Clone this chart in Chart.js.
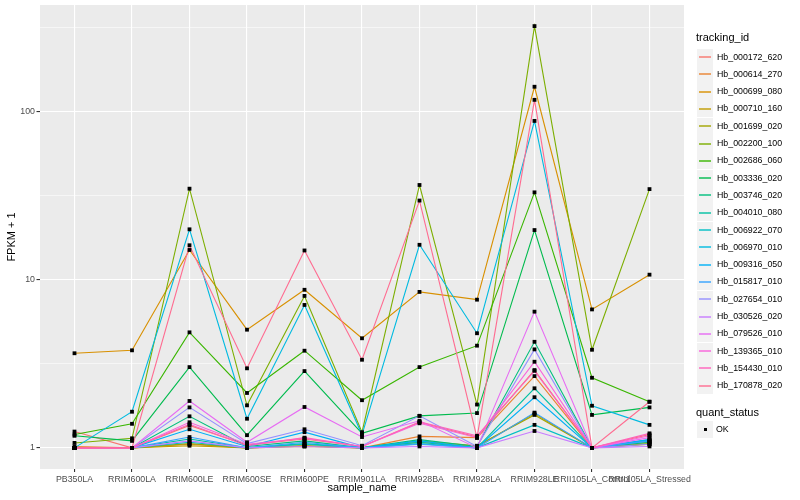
<!DOCTYPE html>
<html><head><meta charset="utf-8">
<script src="https://cdn.jsdelivr.net/npm/chart.js@4.4.0/dist/chart.umd.min.js"></script>
<style>
html,body{margin:0;padding:0;background:#fff;}
#wrap{position:relative;width:800px;height:500px;font-family:"Liberation Sans",Arial,sans-serif;overflow:hidden;}
canvas{position:absolute;left:0;top:0;}
.key{position:absolute;width:16px;height:17px;background:#F2F2F2;}
.key .ln{position:absolute;left:2px;width:12px;top:7.5px;height:2px;opacity:0.7;}
.key .pt{position:absolute;left:6.5px;top:7px;width:3px;height:3px;background:#000;}
.lab{position:absolute;font-size:8.8px;line-height:17px;height:17px;color:#000;white-space:nowrap;}
.ttl{position:absolute;font-size:11px;line-height:14px;color:#000;white-space:nowrap;}
</style></head>
<body><div id="wrap"><canvas id="c" width="800" height="500"></canvas><div id="legend"></div></div>
<script>
const categories = ['PB350LA','RRIM600LA','RRIM600LE','RRIM600SE','RRIM600PE','RRIM901LA','RRIM928BA','RRIM928LA','RRIM928LE','RRII105LA_Control','RRII105LA_Stressed'];
const seriesNames = ['Hb_000172_620','Hb_000614_270','Hb_000699_080','Hb_000710_160','Hb_001699_020','Hb_002200_100','Hb_002686_060','Hb_003336_020','Hb_003746_020','Hb_004010_080','Hb_006922_070','Hb_006970_010','Hb_009316_050','Hb_015817_010','Hb_027654_010','Hb_030526_020','Hb_079526_010','Hb_139365_010','Hb_154430_010','Hb_170878_020'];
const seriesColors = ['#F8766D','#EA8331','#D89000','#C09B00','#A3A500','#7CAE00','#39B600','#00BB4E','#00BF7D','#00C1A3','#00BFC4','#00BAE0','#00B0F6','#35A2FF','#9590FF','#C77CFF','#E76BF3','#FA62DB','#FF62BC','#FF6C91'];

const hb_000172_620 = [1.25, 1.0, 1.36, 1.04, 1.13, 1.02, 1.42, 1.16, 2.9, 1.0, 1.2];
const hb_000614_270 = [1.02, 1.0, 1.05, 1.0, 1.03, 1.0, 1.17, 1.15, 2.67, 1.0, 1.08];
const hb_000699_080 = [3.65, 3.8, 15.0, 5.04, 8.7, 4.48, 8.45, 7.6, 140, 6.65, 10.7];
const hb_000710_160 = [1.0, 1.0, 1.03, 1.0, 1.02, 1.0, 1.08, 1.02, 1.6, 1.0, 1.05];
const hb_001699_020 = [1.0, 1.0, 1.06, 1.0, 1.03, 1.0, 1.1, 1.03, 1.57, 1.0, 1.06];
const hb_002200_100 = [1.07, 1.14, 34.7, 1.79, 8.0, 1.24, 36.5, 1.81, 321, 3.83, 34.5];
const hb_002686_060 = [1.2, 1.39, 4.86, 2.12, 3.78, 1.92, 3.02, 4.05, 33, 2.61, 1.88];
const hb_003336_020 = [1.18, 1.1, 3.02, 1.19, 2.86, 1.22, 1.55, 1.61, 19.7, 1.57, 1.74];
const hb_003746_020 = [1.0, 1.0, 1.54, 1.02, 1.1, 1.0, 1.12, 1.02, 4.27, 1.0, 1.08];
const hb_004010_080 = [1.0, 1.0, 1.13, 1.0, 1.06, 1.0, 1.08, 1.0, 2.26, 1.0, 1.1];
const hb_006922_070 = [1.0, 1.0, 1.08, 1.0, 1.05, 1.0, 1.06, 1.0, 1.37, 1.0, 1.12];
const hb_006970_010 = [1.0, 1.64, 19.9, 1.49, 7.07, 1.2, 16.1, 4.8, 87.7, 1.78, 1.37];
const hb_009316_050 = [1.0, 1.0, 1.29, 1.02, 1.24, 1.0, 1.1, 1.0, 2.0, 1.0, 1.12];
const hb_015817_010 = [1.0, 1.0, 1.16, 1.0, 1.08, 1.0, 1.05, 1.0, 1.62, 1.0, 1.1];
const hb_027654_010 = [1.0, 1.0, 1.74, 1.06, 1.29, 1.03, 1.55, 1.02, 3.85, 1.0, 1.05];
const hb_030526_020 = [1.0, 1.0, 1.1, 1.0, 1.02, 1.0, 1.02, 1.0, 1.26, 1.0, 1.02];
const hb_079526_010 = [1.0, 1.0, 1.9, 1.08, 1.75, 1.16, 1.45, 1.0, 6.45, 1.0, 1.15];
const hb_139365_010 = [1.0, 1.0, 1.42, 1.05, 1.14, 1.02, 1.4, 1.15, 3.25, 1.0, 1.18];
const hb_154430_010 = [1.0, 1.0, 1.38, 1.03, 1.15, 1.02, 1.43, 1.18, 2.87, 1.0, 1.22];
const hb_170878_020 = [1.0, 1.0, 16.0, 2.97, 14.9, 3.34, 29.5, 1.15, 117, 1.0, 1.88];

const seriesValues = [hb_000172_620, hb_000614_270, hb_000699_080, hb_000710_160, hb_001699_020, hb_002200_100, hb_002686_060, hb_003336_020, hb_003746_020, hb_004010_080, hb_006922_070, hb_006970_010, hb_009316_050, hb_015817_010, hb_027654_010, hb_030526_020, hb_079526_010, hb_139365_010, hb_154430_010, hb_170878_020];

const yMajorTicks = [1, 10, 100];
const yTickLabels = ['1', '10', '100'];
const yMinorTicks = [3.1623, 31.623, 316.23];

const isMajor = v => yMajorTicks.some(m => Math.abs(m - v) < 1e-6);

const datasets = seriesValues.map((vals, i) => ({
  label: seriesNames[i],
  data: vals.map((v, j) => ({x: j, y: v})),
  borderColor: seriesColors[i],
  backgroundColor: seriesColors[i],
  borderWidth: 1.1,
  pointRadius: 0,
  fill: false,
  tension: 0,
  order: seriesValues.length - i
}));
const allPoints = [];
seriesValues.forEach(vals => vals.forEach((v, j) => allPoints.push({x: j, y: v})));
datasets.push({
  label: 'OK',
  data: allPoints,
  showLine: false,
  pointStyle: 'rect',
  pointRadius: 2.7,
  pointBackgroundColor: '#000',
  pointBorderWidth: 0,
  borderColor: '#000',
  order: -1
});

const panelBg = {
  id: 'panelBg',
  beforeDraw(chart) {
    const a = chart.chartArea, ctx = chart.ctx;
    ctx.save();
    ctx.fillStyle = '#EBEBEB';
    ctx.fillRect(a.left, a.top, a.right - a.left, a.bottom - a.top);
    ctx.restore();
  }
};

Chart.defaults.font.family = '"Liberation Sans", Arial, sans-serif';

new Chart(document.getElementById('c'), {
  type: 'line',
  data: { datasets },
  plugins: [panelBg],
  options: {
    responsive: false,
    animation: false,
    layout: { padding: { left: 0, top: 5, right: 116, bottom: 0 } },
    plugins: { legend: { display: false }, tooltip: { enabled: false } },
    scales: {
      x: {
        type: 'linear', min: -0.6, max: 10.6, bounds: 'data',
        afterBuildTicks: s => { s.ticks = categories.map((c, i) => ({ value: i })); },
        afterFit: s => { s.height = 31; s.paddingLeft = 0; s.paddingRight = 0; },
        ticks: {
          callback: v => categories[v] !== undefined ? categories[v] : '',
          autoSkip: false, maxRotation: 0, minRotation: 0,
          color: '#4D4D4D', font: { size: 8.8 }, padding: 2
        },
        grid: { color: '#FFFFFF', lineWidth: 1.1, tickColor: '#333333', tickLength: 3 },
        border: { display: false },
        title: { display: true, text: 'sample_name', color: '#000', font: { size: 11 }, padding: { top: 0, bottom: 5 } }
      },
      y: {
        type: 'logarithmic', min: 0.749, max: 428.5, bounds: 'data',
        afterBuildTicks: s => {
          s.ticks = [...yMajorTicks, ...yMinorTicks].sort((a, b) => a - b).map(v => ({ value: v }));
        },
        afterFit: s => { s.width = 40; s.paddingTop = 0; s.paddingBottom = 0; },
        ticks: {
          callback: v => { const k = yMajorTicks.findIndex(m => Math.abs(m - v) < 1e-6); return k >= 0 ? yTickLabels[k] : ''; },
          autoSkip: false, color: '#4D4D4D', font: { size: 8.8 }, padding: 1.5
        },
        grid: {
          color: '#FFFFFF',
          lineWidth: c => (c.tick && isMajor(c.tick.value)) ? 1.1 : 0.55,
          tickColor: c => (c.tick && isMajor(c.tick.value)) ? '#333333' : 'rgba(0,0,0,0)',
          tickLength: 3.5
        },
        border: { display: false },
        title: { display: true, text: 'FPKM + 1', color: '#000', font: { size: 11 }, padding: { top: 5, bottom: 0 } }
      }
    }
  }
});

// legend (HTML)
const lg = document.getElementById('legend');
function add(html) { lg.insertAdjacentHTML('beforeend', html); }
add('<div class="ttl" style="left:696px;top:30px">tracking_id</div>');
seriesNames.forEach((n, i) => {
  const cy = 57 + 17.3 * i;
  add('<div class="key" style="left:697px;top:' + (cy - 8.5) + 'px"><div class="ln" style="background:' + seriesColors[i] + '"></div></div>');
  add('<div class="lab" style="left:717px;top:' + (cy - 8.5) + 'px">' + n + '</div>');
});
add('<div class="ttl" style="left:696px;top:405px">quant_status</div>');
add('<div class="key" style="left:697px;top:420.5px"><div class="pt"></div></div>');
add('<div class="lab" style="left:716px;top:420.5px">OK</div>');
</script>
</body></html>
